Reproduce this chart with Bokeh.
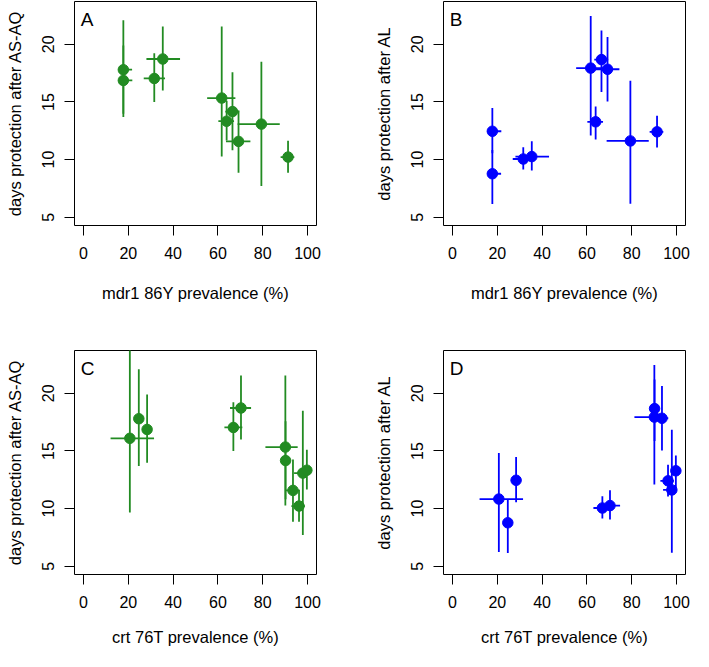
import numpy as np
from bokeh.plotting import figure
from bokeh.layouts import column, row
from bokeh.models import FixedTicker, Label
from bokeh.embed import file_html
from bokeh.resources import INLINE

# 11 study sites (site 1 has no mdr1 data)
mdr1 = [np.nan, 17.8, 17.8, 31.6, 35.4, 61.7, 66.5, 69.2, 91.3, 79.4, 63.9]
mdr1_lo = [np.nan, 15.6, 15.6, 26.9, 28.1, 55.2, 63.3, 63.6, 88.0, 68.8, 60.2]
mdr1_hi = [np.nan, 21.7, 21.8, 36.4, 43.1, 67.8, 69.5, 74.5, 94.1, 87.6, 67.2]

crt = [20.7, 24.7, 28.4, 66.9, 70.3, 90.1, 90.2, 93.5, 96.2, 97.9, 99.7]
crt_lo = [12.1, 23.4, 27.2, 62.9, 65.4, 81.2, 89.4, 90.3, 92.8, 94.0, 99.0]
crt_hi = [31.5, 26.0, 29.6, 70.9, 74.8, 95.6, 91.0, 96.3, 98.8, 100.0, 100.4]

asaq = [16.1, 17.8, 16.87, 17.04, 18.73, 15.34, 14.17, 11.58, 10.22, 13.08, 13.33]
asaq_lo = [9.66, 13.7, 13.97, 15.0, 16.0, 10.27, 10.8, 8.86, 8.85, 7.7, 11.66]
asaq_hi = [24.5, 22.1, 19.91, 19.23, 21.55, 21.54, 17.57, 14.25, 11.64, 18.5, 15.1]

al = [10.83, 8.77, 12.46, 10.05, 10.26, 17.94, 18.68, 17.84, 12.41, 11.62, 13.28]
al_lo = [6.23, 6.14, 10.55, 9.15, 9.05, 12.1, 15.86, 15.05, 11.05, 6.16, 11.75]
al_hi = [14.83, 10.83, 14.47, 11.08, 11.6, 22.47, 21.2, 20.63, 13.8, 16.85, 14.6]

x_ticks = [0, 20, 40, 60, 80, 100]
y_ticks = [5, 10, 15, 20]

GREEN = "#228B22"
BLUE = "#0000FF"
FONT = "Liberation Sans"


def panel(letter, x, xlo, xhi, y, ylo, yhi, color, xlabel, ylabel,
          left_side, top_row):
    x = np.asarray(x, float); xlo = np.asarray(xlo, float); xhi = np.asarray(xhi, float)
    y = np.asarray(y, float); ylo = np.asarray(ylo, float); yhi = np.asarray(yhi, float)
    m = ~np.isnan(x)
    x, xlo, xhi, y, ylo, yhi = x[m], xlo[m], xhi[m], y[m], ylo[m], yhi[m]

    p = figure(frame_width=242, frame_height=224,
               x_range=(-4, 104), y_range=(4.28, 23.72),
               output_backend="svg", toolbar_location=None, title=None,
               min_border_left=74, min_border_right=53 if left_side else 8,
               min_border_top=1, min_border_bottom=124 if top_row else 77)
    p.background_fill_color = "white"
    p.border_fill_color = "white"
    p.outline_line_color = "black"
    p.outline_line_width = 1
    p.xgrid.visible = False
    p.ygrid.visible = False

    p.segment(x0=x, y0=ylo, x1=x, y1=yhi, line_color=color, line_width=1.8)
    p.segment(x0=xlo, y0=y, x1=xhi, y1=y, line_color=color, line_width=1.8)
    p.scatter(x=x, y=y, size=10.5, color=color, line_color=color)

    for ax in (p.xaxis[0], p.yaxis[0]):
        ax.axis_line_color = None
        ax.major_tick_out = 10
        ax.major_tick_in = 0
        ax.minor_tick_out = 0
        ax.minor_tick_in = 0
        ax.major_tick_line_color = "black"
        ax.major_label_text_font = FONT
        ax.major_label_text_font_size = "16px"
        ax.major_label_text_color = "black"
        ax.axis_label_text_font = FONT
        ax.axis_label_text_font_size = "16.5px"
        ax.axis_label_text_font_style = "normal"
        ax.axis_label_text_color = "black"
    p.xaxis.ticker = FixedTicker(ticks=x_ticks)
    p.yaxis.ticker = FixedTicker(ticks=y_ticks)
    p.xaxis.axis_label = xlabel
    p.yaxis.axis_label = ylabel
    p.xaxis.major_label_standoff = 11
    p.yaxis.major_label_standoff = 10
    p.yaxis.major_label_orientation = "vertical"
    p.xaxis.axis_label_standoff = 22 if top_row else 17
    p.yaxis.axis_label_standoff = 16

    p.add_layout(Label(x=-1.2, y=23.05, text=letter, text_baseline="top",
                       text_align="left", text_font=FONT,
                       text_font_size="19px", text_color="black"))
    return p


pA = panel("A", mdr1, mdr1_lo, mdr1_hi, asaq, asaq_lo, asaq_hi, GREEN,
           "mdr1 86Y prevalence (%)", "days protection after AS-AQ", True, True)
pB = panel("B", mdr1, mdr1_lo, mdr1_hi, al, al_lo, al_hi, BLUE,
           "mdr1 86Y prevalence (%)", "days protection after AL", False, True)
pC = panel("C", crt, crt_lo, crt_hi, asaq, asaq_lo, asaq_hi, GREEN,
           "crt 76T prevalence (%)", "days protection after AS-AQ", True, False)
pD = panel("D", crt, crt_lo, crt_hi, al, al_lo, al_hi, BLUE,
           "crt 76T prevalence (%)", "days protection after AL", False, False)

layout = column(row(pA, pB), row(pC, pD))

open("out.html", "w").write(file_html(layout, INLINE))
